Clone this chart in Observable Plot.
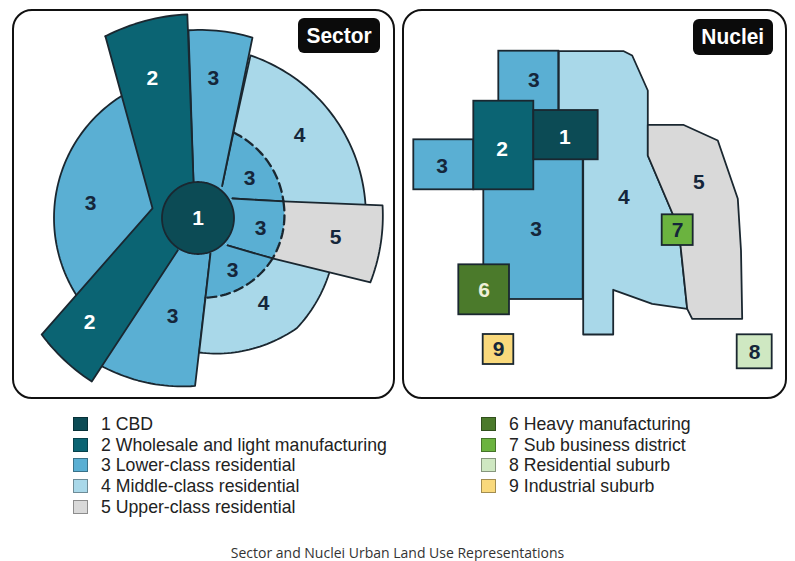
<!DOCTYPE html>
<html>
<head>
<meta charset="utf-8">
<script src="https://cdn.jsdelivr.net/npm/d3@7"></script>
<script src="https://cdn.jsdelivr.net/npm/@observablehq/plot@0.6"></script>
<style>
  body { margin: 0; background: #fff; }
  #root { position: relative; width: 795px; height: 561px; overflow: hidden; background: #fff; }
  .panel { position: absolute; border: 2.6px solid #111; border-radius: 20px; box-sizing: border-box; }
  .chart { position: absolute; }
  .badge { position: absolute; background: #0b0b0b; color: #fff; border-radius: 6px;
           font-family: "Liberation Sans", Arial, sans-serif; font-weight: bold; font-size: 22.5px;
           display: flex; align-items: center; justify-content: center; }
  .badge span { display: inline-block; transform: scaleX(0.93); }
  .lg { position: absolute; height: 22px; display: flex; align-items: center; white-space: nowrap;
        font-family: "Liberation Sans", Arial, sans-serif; font-size: 18.5px; color: #222; }
  .lg span { display: inline-block; transform: scaleX(0.955); transform-origin: 0 50%; }
  .sw { width: 15px; height: 14px; box-sizing: border-box; border: 1px solid rgba(0,0,0,0.35); margin-right: 13px; flex: none; }
  #caption { position: absolute; left: 0; width: 795px; top: 543px; text-align: center;
             font-family: "Open Sans", "Noto Sans", sans-serif; font-size: 14px; color: #333; }
</style>
</head>
<body>
<div id="root">
  <div class="panel" style="left:12px;top:9px;width:383px;height:390px"></div>
  <div class="panel" style="left:402px;top:9px;width:385px;height:390px"></div>
  <div id="sector" class="chart" style="left:13px;top:10px"></div>
  <div id="nuclei" class="chart" style="left:403px;top:10px"></div>
  <div class="badge" style="left:298px;top:18px;width:82px;height:35px"><span>Sector</span></div>
  <div class="badge" style="left:693px;top:19px;width:80px;height:36px"><span>Nuclei</span></div>
  <div id="legend"></div>
  <div id="caption">Sector and Nuclei Urban Land Use Representations</div>
</div>
<script>
// ---------- categories ----------
const zoneIds = [1, 2, 3, 4, 5, 6, 7, 8, 9];
const zoneNames = ["CBD", "Wholesale and light manufacturing", "Lower-class residential",
  "Middle-class residential", "Upper-class residential", "Heavy manufacturing",
  "Sub business district", "Residential suburb", "Industrial suburb"];
const zoneColors = ["#0c4b55", "#0b6473", "#5aafd3", "#a9d8e9", "#d9d9d9",
  "#4b7a2b", "#6bb33f", "#cfe8c2", "#f9d97c"];
const legendLeftZones = [1, 2, 3, 4, 5];
const legendRightZones = [6, 7, 8, 9];

// ---------- Sector model (angle in degrees clockwise from north, radius) ----------
// each vertex: [angle, radius, edge-to-next]; edge: l=line, a=arc, d=dashed arc, x=hidden line, xa=hidden arc
const sectorRegions = [
  {zone: 3, v: [[0, 0, "x"], [225, 144, "a"], [330, 144, "x"]]},
  {zone: 3, v: [[0, 0, "x"], [160.6, 37.6, "l"], [181, 168, "a"], [218, 178, "x"]]},
  {zone: 4, v: [[22.5, 92.6, "l"], [17.9, 170.8, "a"], [86, 168, "x"], [79, 87, "xa"]]},
  {zone: 4, v: [[118.5, 84.8, "x"], [111.5, 142, "a"], [138, 148, "a"], [179.5, 134.5, "l"], [174.6, 80, "xa"]]},
  {zone: 5, v: [[79, 87, "l"], [86.1, 185, "a"], [110.5, 184, "l"], [118.5, 84.8, "xa"]]},
  {zone: 3, v: [[0, 0, "x"], [37, 40, "l"], [22.5, 92.6, "d"], [79, 87, "l"], [60.5, 39.6, "x"]]},
  {zone: 3, v: [[0, 0, "x"], [60.5, 39.6, "l"], [79, 87, "d"], [118.5, 84.8, "l"], [133, 40.3, "x"]]},
  {zone: 3, v: [[0, 0, "x"], [133, 40.3, "l"], [118.5, 84.8, "d"], [174.6, 80, "l"], [160.6, 37.6, "x"]]},
  {zone: 3, v: [[0, 0, "x"], [-7, 37, "l"], [-2.9, 188, "a"], [16.8, 188.5, "l"], [37, 40, "x"]]},
  {zone: 2, v: [[-27, 204, "a"], [-3, 204, "l"], [-7, 37, "x"], [0, 0, "x"], [212, 38, "l"],
                [213, 195, "a"], [233.3, 195, "l"], [282, 46.5, "l"]]},
  {zone: 1, v: [[0, 36, "a"], [120, 36, "a"], [240, 36, "a"]]}
];
const sectorLabels = [
  {t: "2", zone: 2, a: -18.1, r: 146.7}, {t: "3", zone: 3, a: 6.3, r: 140.4},
  {t: "4", zone: 4, a: 50.9, r: 130.8}, {t: "3", zone: 3, a: 277.7, r: 108.5},
  {t: "3", zone: 3, a: 52.5, r: 64.9}, {t: "3", zone: 3, a: 99.5, r: 63.4},
  {t: "5", zone: 5, a: 98.1, r: 138.9}, {t: "1", zone: 1, a: 0, r: 0},
  {t: "3", zone: 3, a: 146.7, r: 62.8}, {t: "4", zone: 4, a: 142.5, r: 107.7},
  {t: "3", zone: 3, a: 194.5, r: 101.7}, {t: "2", zone: 2, a: 226.1, r: 150.6}
];

// ---------- Nuclei model (map units) ----------
const nucleiRectsBack = [
  {zone: 3, x1: 498.3, x2: 558.3, y1: 50.7, y2: 150},
  {zone: 3, x1: 483.3, x2: 582.7, y1: 155, y2: 299},
  {zone: 3, x1: 413.3, x2: 473.3, y1: 139.3, y2: 189.3}
];
const nucleiPolys = [
  {zone: 4, pts: [[558.3, 50.7], [623.3, 50.7], [631.7, 55], [647.3, 90], [647.3, 155], [672, 213],
                  [680, 245], [686.7, 308.3], [651.7, 303.3], [612.7, 289.3], [612.7, 334],
                  [582.7, 334], [582.7, 135], [558.3, 135]]},
  {zone: 5, pts: [[647.3, 124.3], [682.7, 124.3], [717.3, 140], [737.3, 198.3], [740.5, 250],
                  [741.7, 318.3], [691.7, 318.3], [686.7, 308.3], [680, 245], [672, 213], [647.3, 155]]}
];
const nucleiRectsFront = [
  {zone: 2, x1: 473.3, x2: 533.3, y1: 100.7, y2: 189.3},
  {zone: 1, x1: 533.3, x2: 597.7, y1: 110, y2: 159.3},
  {zone: 6, x1: 458.3, x2: 509, y1: 264.3, y2: 314.3},
  {zone: 7, x1: 661.7, x2: 692.7, y1: 214.3, y2: 245},
  {zone: 9, x1: 482.7, x2: 513.3, y1: 334, y2: 364},
  {zone: 8, x1: 736.7, x2: 771.7, y1: 334.3, y2: 368.3}
];
const nucleiLabels = [
  {t: "3", zone: 3, x: 533.3, y: 79.3}, {t: "2", zone: 2, x: 501.7, y: 148.3},
  {t: "1", zone: 1, x: 564.3, y: 136.7}, {t: "3", zone: 3, x: 441.7, y: 165.7},
  {t: "3", zone: 3, x: 535.7, y: 228.3}, {t: "4", zone: 4, x: 623.3, y: 196.7},
  {t: "5", zone: 5, x: 698.3, y: 181.7}, {t: "7", zone: 7, x: 677, y: 229.7},
  {t: "6", zone: 6, x: 483.7, y: 289.3}, {t: "9", zone: 9, x: 498, y: 349},
  {t: "8", zone: 8, x: 754.2, y: 351.3}
];

// ---------- helpers ----------
const colorOf = z => zoneColors[zoneIds.indexOf(z)];
const labelColor = z => z === 1 || z === 2 ? "#ffffff" : z === 6 ? "#eef0d8" : "#15263a";
const EDGE = "#1a2730";
const FONT = "'Liberation Sans', Arial, sans-serif";
const polar = (a, r) => { const t = a * Math.PI / 180; return [r * Math.sin(t), r * Math.cos(t)]; };
function segPoints(v, w, type) {
  if (type === "a" || type === "d" || type === "xa") {
    let delta = w[0] - v[0];
    while (delta > 180) delta -= 360;
    while (delta <= -180) delta += 360;
    const n = Math.max(2, Math.ceil(Math.abs(delta) / 1.5));
    const out = [];
    for (let k = 0; k <= n; k++) out.push(polar(v[0] + delta * k / n, v[1] + (w[1] - v[1]) * k / n));
    return out;
  }
  return [polar(v[0], v[1]), polar(w[0], w[1])];
}
function regionGeometry(reg) {
  const fill = [], solid = [], dashed = [];
  let run = null, runKind = null;
  const n = reg.v.length;
  for (let i = 0; i < n; i++) {
    const v = reg.v[i], w = reg.v[(i + 1) % n], type = v[2];
    const pts = segPoints(v, w, type);
    fill.push(...pts.slice(0, -1));
    const kind = (type === "l" || type === "a") ? "s" : type === "d" ? "d" : null;
    if (kind && kind === runKind) run.push(...pts.slice(1));
    else {
      if (run) (runKind === "s" ? solid : dashed).push(run);
      run = kind ? pts.slice() : null; runKind = kind;
    }
  }
  if (run) (runKind === "s" ? solid : dashed).push(run);
  fill.push(fill[0]);
  const flat = runs => runs.flatMap((r, j) => r.map(p => ({x: p[0], y: p[1], id: j})));
  return {fill: fill.map(p => ({x: p[0], y: p[1]})), solid: flat(solid), dashed: flat(dashed)};
}

// ---------- Sector chart ----------
const sectorMarks = [];
for (const reg of sectorRegions) {
  const g = regionGeometry(reg);
  sectorMarks.push(Plot.line(g.fill, {x: "x", y: "y", fill: colorOf(reg.zone), stroke: "none"}));
  if (g.solid.length) sectorMarks.push(Plot.line(g.solid, {x: "x", y: "y", z: "id", stroke: EDGE,
    strokeWidth: 1.8, strokeLinejoin: "round", strokeLinecap: "round"}));
  if (g.dashed.length) sectorMarks.push(Plot.line(g.dashed, {x: "x", y: "y", z: "id", stroke: EDGE,
    strokeWidth: 2.3, strokeDasharray: "9,5"}));
}
sectorMarks.push(Plot.text(sectorLabels, {
  x: d => polar(d.a, d.r)[0], y: d => polar(d.a, d.r)[1], text: "t",
  fill: d => labelColor(d.zone), fontSize: 21, fontWeight: "bold", fontFamily: FONT
}));
const sector = Plot.plot({
  width: 381, height: 388, margin: 0,
  x: {domain: [-184.5, 196.5], axis: null},
  y: {domain: [-180.5, 207.5], axis: null},
  color: {type: "identity"},
  style: {background: "transparent", overflow: "visible"},
  marks: sectorMarks
});
document.getElementById("sector").appendChild(sector);

// ---------- Nuclei chart ----------
const rectOpts = {x1: "x1", x2: "x2", y1: "y1", y2: "y2", fill: d => colorOf(d.zone), stroke: EDGE, strokeWidth: 1.8};
const nucleiMarks = [Plot.rect(nucleiRectsBack, rectOpts)];
for (const p of nucleiPolys) {
  const pts = [...p.pts, p.pts[0]].map(q => ({x: q[0], y: q[1]}));
  nucleiMarks.push(Plot.line(pts, {x: "x", y: "y", fill: colorOf(p.zone), stroke: EDGE,
    strokeWidth: 1.8, strokeLinejoin: "round"}));
}
nucleiMarks.push(Plot.rect(nucleiRectsFront, rectOpts));
nucleiMarks.push(Plot.text(nucleiLabels, {x: "x", y: "y", text: "t", fill: d => labelColor(d.zone),
  fontSize: 21, fontWeight: "bold", fontFamily: FONT}));
const nuclei = Plot.plot({
  width: 383, height: 388, margin: 0,
  x: {domain: [403, 786], axis: null},
  y: {domain: [10, 398], reverse: true, axis: null},
  color: {type: "identity"},
  style: {background: "transparent", overflow: "visible"},
  marks: nucleiMarks
});
document.getElementById("nuclei").appendChild(nuclei);

// ---------- Legend ----------
const legend = document.getElementById("legend");
function addColumn(zones, left) {
  zones.forEach((z, i) => {
    const row = document.createElement("div");
    row.className = "lg";
    row.style.left = left + "px";
    row.style.top = (413 + i * 20.7) + "px";
    const sw = document.createElement("div");
    sw.className = "sw";
    sw.style.background = colorOf(z);
    row.appendChild(sw);
    const tx = document.createElement("span");
    tx.textContent = z + " " + zoneNames[zoneIds.indexOf(z)];
    row.appendChild(tx);
    legend.appendChild(row);
  });
}
addColumn(legendLeftZones, 73);
addColumn(legendRightZones, 481);
</script>
</body>
</html>
